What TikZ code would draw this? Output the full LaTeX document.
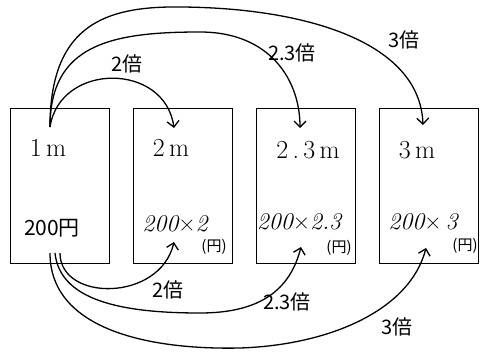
\documentclass[tikz,border=0pt]{standalone}
\usepackage{fontspec}
\newfontfamily\jp{Noto Sans CJK JP}
\usetikzlibrary{arrows.meta}
\begin{document}
\begin{tikzpicture}[x=1pt,y=-1pt,
  box/.style={draw,line width=0.8pt,minimum width=99pt,minimum height=155pt,inner sep=0pt},
  arr/.style={line width=1.3pt,-{Straight Barb[length=6pt,width=12pt,line width=1.3pt]}},
  lbl/.style={font=\jp\fontsize{20}{24}\selectfont,inner sep=0pt},
  big/.style={font=\fontsize{26}{30}\selectfont,inner sep=0pt},
  cost/.style={font=\itshape\fontsize{24}{28}\selectfont,inner sep=0pt},
  yen/.style={font=\jp\fontsize{15}{18}\selectfont,inner sep=0pt}]
\useasboundingbox (0,0) rectangle (484,353);
\node[box] (b1) at (59.5,185.5) {};
\node[box] (b2) at (182.5,185.5) {};
\node[box] (b3) at (305.5,185.5) {};
\node[box] (b4) at (429,185.5) {};
\node[big] (m1) at (48,148) {1\,m};
\node[big] (m2) at (171,148) {2\,m};
\node[big] (m3) at (308,150) {2\,.\,3\,m};
\node[big] (m4) at (417,150) {3\,m};
\node[font=\jp\fontsize{21}{25}\selectfont,inner sep=0pt] (c1) at (52,228) {200円};
\node[cost] (c2) at (175,224) {200{\upshape×}2};
\node[cost] (c3) at (299,222) {200{\upshape×}2.3};
\node[cost] (c4) at (423,222) {200{\upshape×}\,3};
\node[yen] (y2) at (214,247) {(円)};
\node[yen] (y3) at (339,248) {(円)};
\node[yen] (y4) at (465,246) {(円)};
\coordinate (s1) at (50,127);
\coordinate (s2) at (60,253);
\coordinate (s3) at (55,253);
\coordinate (s4) at (50,253);
\coordinate (t2) at (174,128);
\coordinate (t3) at (300,128);
\coordinate (t4) at (423,125);
\coordinate (u2) at (174,242);
\coordinate (u3) at (301,247);
\coordinate (u4) at (426,248);
% top arrows
\draw[arr] (s1) .. controls (60,62) and (165,62) .. (t2);
\draw[arr] (s1) .. controls (50,45) and (110,32) .. (200,32) .. controls (270,32) and (300,80) .. (t3);
\draw[arr] (s1) .. controls (50,30) and (100,8) .. (170,7) .. controls (300,6) and (420,40) .. (t4);
\node[lbl] (l1) at (127,64) {2倍};
\node[lbl] (l2) at (292,53) {2.3倍};
\node[lbl] (l3) at (404,40) {3倍};
% bottom arrows
\draw[arr] (s2) .. controls (60,302) and (160,302) .. (u2);
\draw[arr] (s3) .. controls (60,300) and (120,313) .. (200,313) .. controls (260,313) and (290,290) .. (u3);
\draw[arr] (s4) .. controls (50,330) and (150,350) .. (240,348) .. controls (330,345) and (410,310) .. (u4);
\node[lbl] (l4) at (168,290) {2倍};
\node[lbl] (l5) at (287,302) {2.3倍};
\node[lbl] (l6) at (397,327) {3倍};
\end{tikzpicture}
\end{document}
